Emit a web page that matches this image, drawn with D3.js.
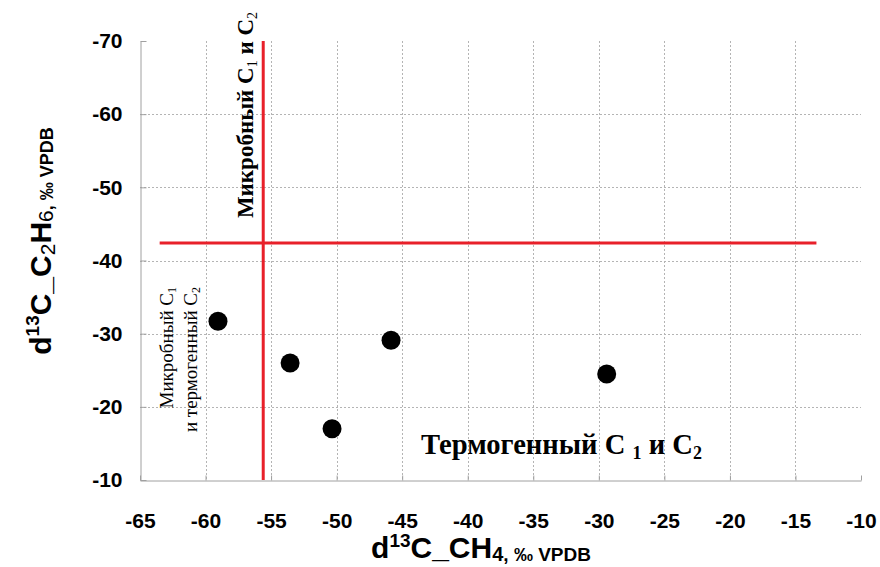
<!DOCTYPE html>
<html>
<head>
<meta charset="utf-8">
<script src="https://cdn.jsdelivr.net/npm/d3@7"></script>
<style>
  body { margin: 0; background: #fff; }
  svg { display: block; }
</style>
</head>
<body>
<script>
// isotope data: d13C of CH4 (x) vs d13C of C2H6 (y)
const ch4 = [-59.05, -53.55, -50.35, -45.85, -29.4];
const c2h6 = [-31.7, -26.0, -17.0, -29.1, -24.5];
const xTicks = [-65, -60, -55, -50, -45, -40, -35, -30, -25, -20, -15, -10];
const yTicks = [-70, -60, -50, -40, -30, -20, -10];
// boundary lines (microbial / thermogenic)
const vLine = { x: -55.6, y1: -10, y2: -70 };
const hLine = { y: -42.4, x1: -63.5, x2: -13.4 };

const width = 880, height = 567;
const plotL = 140, plotR = 861, plotT = 41, plotB = 480;
const sans = "'Liberation Sans', Arial, sans-serif";
const serif = "'Liberation Serif', 'Times New Roman', serif";

const svg = d3.select("body").append("svg")
  .attr("width", width)
  .attr("height", height);

const x = d3.scaleLinear().domain([-65, -10]).range([plotL, plotR]);
const y = d3.scaleLinear().domain([-10, -70]).range([plotB, plotT]);

// dotted grid
const grid = svg.append("g").attr("class", "grid")
  .attr("stroke", "#b4b4b4").attr("stroke-width", 1).attr("stroke-dasharray", "2,2");
grid.selectAll("line.v")
  .data(xTicks.filter(d => d > -65 && d < -10))
  .join("line")
  .attr("class", "v")
  .attr("x1", d => Math.round(x(d)) + 0.5).attr("x2", d => Math.round(x(d)) + 0.5)
  .attr("y1", plotT).attr("y2", plotB);
grid.selectAll("line.h")
  .data(yTicks.filter(d => d > -70 && d < -10))
  .join("line")
  .attr("class", "h")
  .attr("y1", d => Math.round(y(d)) + 0.5).attr("y2", d => Math.round(y(d)) + 0.5)
  .attr("x1", plotL).attr("x2", plotR);

// axes (plain hyphen for the minus sign, like the original)
const fmt = d => String(d);
const xAxis = svg.append("g")
  .attr("transform", `translate(0,${plotB + 0.5})`)
  .call(d3.axisBottom(x).tickValues(xTicks).tickFormat(fmt)
    .tickSizeInner(-5).tickSizeOuter(0).tickPadding(33));
const yAxis = svg.append("g")
  .attr("transform", `translate(${plotL + 0.5},0)`)
  .call(d3.axisLeft(y).tickValues(yTicks).tickFormat(fmt)
    .tickSizeInner(-6).tickSizeOuter(0).tickPadding(18));

[xAxis, yAxis].forEach(a => {
  a.select(".domain").attr("stroke", "#a0a0a0");
  a.selectAll(".tick line").attr("stroke", "#a0a0a0");
  a.selectAll(".tick text")
    .attr("fill", "#000")
    .style("font-family", sans)
    .style("font-weight", "bold")
    .style("font-size", "21px");
});

// boundary lines
svg.append("line")
  .attr("x1", x(vLine.x)).attr("x2", x(vLine.x))
  .attr("y1", y(vLine.y1)).attr("y2", y(vLine.y2))
  .attr("stroke", "#e8202a").attr("stroke-width", 3);
svg.append("line")
  .attr("x1", x(hLine.x1)).attr("x2", x(hLine.x2))
  .attr("y1", y(hLine.y)).attr("y2", y(hLine.y))
  .attr("stroke", "#e8202a").attr("stroke-width", 3);

// points
svg.append("g").selectAll("circle")
  .data(ch4.map((v, i) => [v, c2h6[i]]))
  .join("circle")
  .attr("cx", d => x(d[0]))
  .attr("cy", d => y(d[1]))
  .attr("r", 9.5)
  .attr("fill", "#000");

// region labels
const t1 = svg.append("text")
  .attr("transform", "translate(253,115) rotate(-90)")
  .attr("text-anchor", "middle")
  .style("font-family", serif).style("font-weight", "bold").style("font-size", "23px");
t1.append("tspan").text("Микробный C");
t1.append("tspan").attr("dy", 4).style("font-size", "14px").style("font-weight", "normal").text("1");
t1.append("tspan").attr("dy", -4).text(" и C");
t1.append("tspan").attr("dy", 4).style("font-size", "14px").style("font-weight", "normal").text("2");

const t2 = svg.append("text")
  .attr("transform", "translate(173,287) rotate(-90)")
  .attr("text-anchor", "end")
  .style("font-family", serif).style("font-size", "19px");
t2.append("tspan").text("Микробный C");
t2.append("tspan").attr("dy", 3).style("font-size", "12px").text("1");

const t3 = svg.append("text")
  .attr("transform", "translate(197,287) rotate(-90)")
  .attr("text-anchor", "end")
  .style("font-family", serif).style("font-size", "19px");
t3.append("tspan").text("и термогенный C");
t3.append("tspan").attr("dy", 3).style("font-size", "12px").text("2");

const t4 = svg.append("text")
  .attr("x", 421).attr("y", 454)
  .style("font-family", serif).style("font-weight", "bold").style("font-size", "28.6px");
t4.append("tspan").text("Термогенный C ");
t4.append("tspan").attr("dy", 5).style("font-size", "18px").text("1");
t4.append("tspan").attr("dy", -5).text(" и C");
t4.append("tspan").attr("dy", 5).style("font-size", "18px").text("2");

// axis titles
const xt = svg.append("text")
  .attr("x", 481).attr("y", 558)
  .attr("text-anchor", "middle")
  .style("font-family", sans).style("font-weight", "bold").style("font-size", "30px");
xt.append("tspan").text("d");
xt.append("tspan").attr("dy", -11).style("font-size", "19px").text("13");
xt.append("tspan").attr("dy", 11).text("C_CH");
xt.append("tspan").attr("dy", 3).style("font-size", "20px").text("4");
xt.append("tspan").style("font-size", "19px").text(", ‰ VPDB");

const yt = svg.append("text")
  .attr("transform", "translate(51,241) rotate(-90)")
  .attr("text-anchor", "middle")
  .style("font-family", sans).style("font-weight", "bold").style("font-size", "30px");
yt.append("tspan").text("d");
yt.append("tspan").attr("dy", -12).style("font-size", "19px").text("13");
yt.append("tspan").attr("dy", 12).text("C_C");
yt.append("tspan").attr("dy", 4).style("font-size", "21px").style("font-weight", "normal").text("2");
yt.append("tspan").attr("dy", -4).text("H");
yt.append("tspan").attr("dy", 2).style("font-size", "21px").style("font-weight", "normal").text("6");
yt.append("tspan").style("font-size", "18px").text(", ‰ VPDB");
</script>
</body>
</html>
